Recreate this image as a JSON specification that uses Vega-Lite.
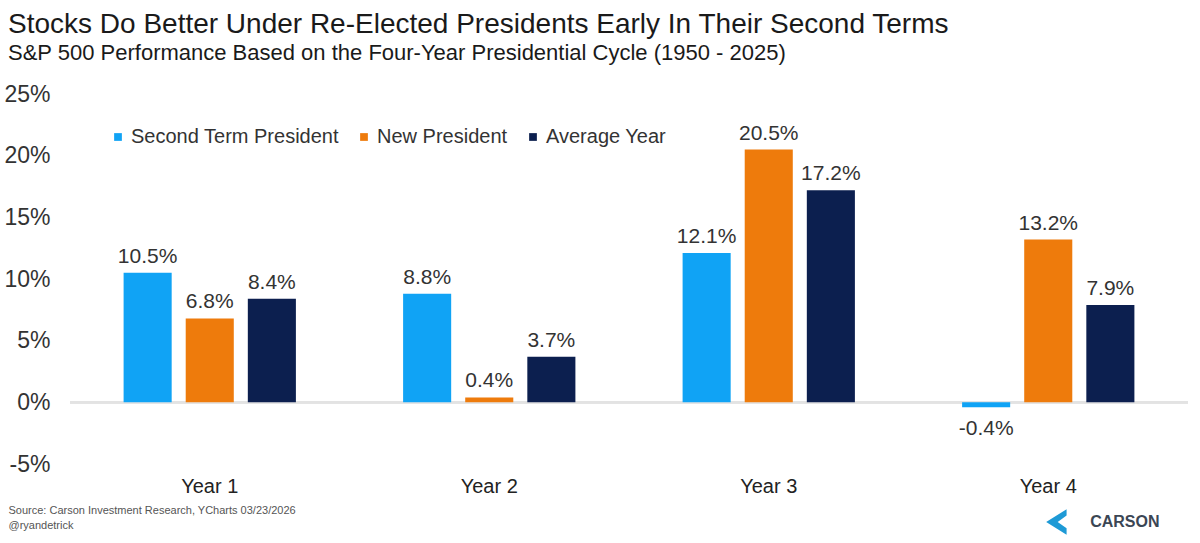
{
  "$schema": "https://vega.github.io/schema/vega-lite/v6.json",
  "autosize": "none",
  "width": 1118,
  "height": 370,
  "padding": {"left": 70, "top": 94, "right": 12, "bottom": 79},
  "background": "white",
  "title": {
    "text": "Stocks Do Better Under Re-Elected Presidents Early In Their Second Terms",
    "subtitle": "S&P 500 Performance Based on the Four-Year Presidential Cycle (1950 - 2025)",
    "anchor": "start",
    "frame": "group",
    "dx": -62,
    "offset": 19,
    "font": "Liberation Sans",
    "fontSize": 28,
    "fontWeight": "normal",
    "color": "#1a1a1a",
    "subtitleFont": "Liberation Sans",
    "subtitleFontSize": 22,
    "subtitleColor": "#1a1a1a",
    "subtitlePadding": 4
  },
  "config": {
    "view": {"stroke": null},
    "font": "Liberation Sans",
    "locale": {"number": {"decimal": ".", "thousands": ",", "grouping": [3], "currency": ["$", ""], "minus": "-"}}
  },
  "data": {
    "values": [
      {"year": "Year 1", "series": "Second Term President", "value": 0.105},
      {"year": "Year 1", "series": "New President", "value": 0.068},
      {"year": "Year 1", "series": "Average Year", "value": 0.084},
      {"year": "Year 2", "series": "Second Term President", "value": 0.088},
      {"year": "Year 2", "series": "New President", "value": 0.004},
      {"year": "Year 2", "series": "Average Year", "value": 0.037},
      {"year": "Year 3", "series": "Second Term President", "value": 0.121},
      {"year": "Year 3", "series": "New President", "value": 0.205},
      {"year": "Year 3", "series": "Average Year", "value": 0.172},
      {"year": "Year 4", "series": "Second Term President", "value": -0.004},
      {"year": "Year 4", "series": "New President", "value": 0.132},
      {"year": "Year 4", "series": "Average Year", "value": 0.079}
    ]
  },
  "encoding": {
    "x": {
      "field": "year",
      "type": "nominal",
      "sort": ["Year 1", "Year 2", "Year 3", "Year 4"],
      "scale": {"paddingInner": 0, "paddingOuter": 0},
      "axis": {
        "domain": false,
        "ticks": false,
        "labelAngle": 0,
        "labelFontSize": 20,
        "labelColor": "#222222",
        "labelPadding": 12,
        "title": ["Source: Carson Investment Research, YCharts 03/23/2026", "@ryandetrick"],
        "titleFontSize": 11,
        "titleFontWeight": "normal",
        "titleColor": "#555555",
        "titleAlign": "left",
        "titleAnchor": "start",
        "titleBaseline": "top",
        "titleX": -62,
        "titleY": 40,
        "titleLineHeight": 15
      }
    },
    "xOffset": {
      "field": "series",
      "type": "nominal",
      "sort": ["Second Term President", "New President", "Average Year"],
      "scale": {"paddingInner": 0.226, "paddingOuter": 0.863}
    }
  },
  "layer": [
    {
      "mark": {"type": "rule", "color": "#e3e3e3", "strokeWidth": 2},
      "encoding": {"y": {"datum": 0, "type": "quantitative"}, "x": null, "xOffset": null}
    },
    {
      "mark": {"type": "bar"},
      "encoding": {
        "y": {
          "field": "value",
          "type": "quantitative",
          "scale": {"domain": [-0.05, 0.25], "nice": false, "zero": false},
          "axis": {
            "values": [-0.05, 0, 0.05, 0.1, 0.15, 0.2, 0.25],
            "format": ".0%",
            "grid": false,
            "domain": false,
            "ticks": false,
            "labelFontSize": 23,
            "labelColor": "#333333",
            "labelPadding": 20,
            "title": null
          }
        },
        "color": {
          "field": "series",
          "type": "nominal",
          "sort": ["Second Term President", "New President", "Average Year"],
          "scale": {
            "domain": ["Second Term President", "New President", "Average Year"],
            "range": ["#10a3f5", "#ee7b0c", "#0c1f4f"]
          },
          "legend": {
            "title": null,
            "orient": "none",
            "direction": "horizontal",
            "legendX": 38,
            "legendY": 33,
            "symbolType": "square",
            "symbolSize": 60,
            "symbolStrokeWidth": 0,
            "labelFontSize": 20,
            "labelLimit": 400,
            "labelColor": "#333333",
            "labelOffset": 3,
            "columnPadding": 15
          }
        }
      }
    },
    {
      "transform": [{"filter": "datum.value >= 0"}],
      "mark": {"type": "text", "baseline": "bottom", "dy": -6, "fontSize": 21, "color": "#333333"},
      "encoding": {
        "y": {"field": "value", "type": "quantitative"},
        "text": {"field": "value", "type": "quantitative", "format": ".1%"}
      }
    },
    {
      "transform": [{"filter": "datum.value < 0"}],
      "mark": {"type": "text", "baseline": "top", "dy": 11, "fontSize": 21, "color": "#333333"},
      "encoding": {
        "y": {"field": "value", "type": "quantitative"},
        "text": {"field": "value", "type": "quantitative", "format": ".1%"}
      }
    },
    {
      "data": {"values": [{"brand": "CARSON"}]},
      "mark": {"type": "text", "fontSize": 16, "fontWeight": "bold", "letterSpacing": 8, "color": "#3b4654", "align": "left", "baseline": "middle"},
      "encoding": {
        "x": {"datum": "Year 4", "bandPosition": 0.65},
        "xOffset": null,
        "y": {"datum": -0.097, "type": "quantitative"},
        "text": {"field": "brand"}
      }
    },
    {
      "data": {"values": [{"brand": "logo"}]},
      "mark": {"type": "point", "filled": true, "opacity": 1, "size": 650, "color": "#1e9ad6", "shape": "M 1 -1 L -0.6 0 L 1 1 L 1 0.5 L 0.3 0 L 1 -0.5 Z"},
      "encoding": {
        "x": {"datum": "Year 4", "bandPosition": 0.52},
        "xOffset": null,
        "y": {"datum": -0.097, "type": "quantitative"}
      }
    }
  ]
}
